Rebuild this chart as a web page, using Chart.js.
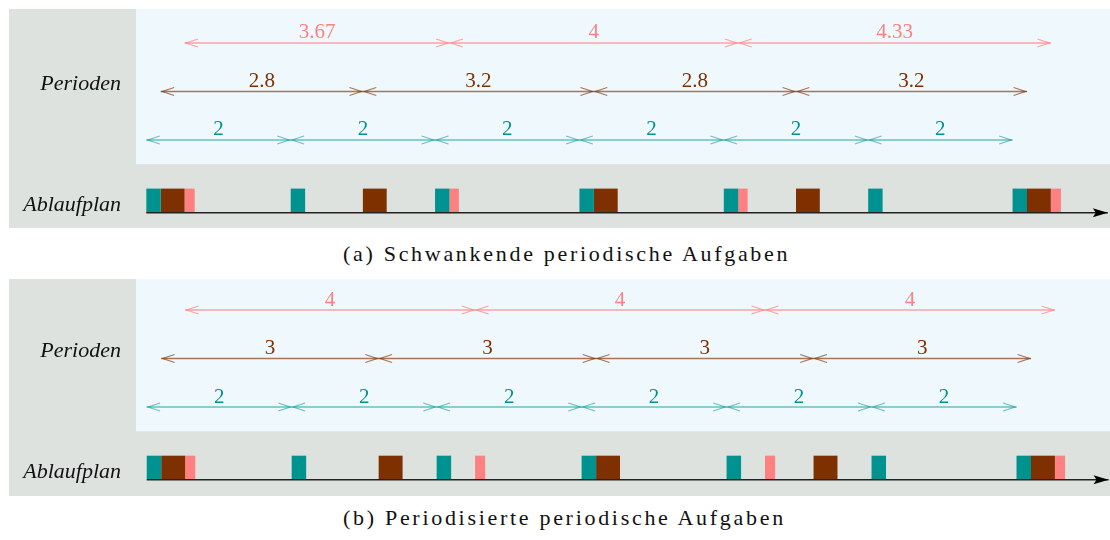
<!DOCTYPE html>
<html lang="de">
<head>
<meta charset="utf-8">
<title>Periodische Aufgaben</title>
<script src="https://cdn.jsdelivr.net/npm/chart.js@4.4.1/dist/chart.umd.min.js"></script>
<style>
  html, body { margin: 0; padding: 0; background: #fff; }
  body { width: 1110px; height: 540px; position: relative; overflow: hidden; }
  canvas { position: absolute; left: 9px; }
  #panel-a { top: 9px; }
  #panel-b { top: 279px; }
  .caption {
    position: absolute; left: 343px; white-space: nowrap;
    font-family: 'Liberation Serif', serif; font-size: 22px; line-height: 22px;
    letter-spacing: 2.7px; color: #111;
  }
  #caption-a { top: 243px; }
  #caption-b { top: 507px; }
</style>
</head>
<body>
<canvas id="panel-a" width="1101" height="219"></canvas>
<div class="caption" id="caption-a">(a) Schwankende periodische Aufgaben</div>
<canvas id="panel-b" width="1101" height="217"></canvas>
<div class="caption" id="caption-b">(b) Periodisierte periodische Aufgaben</div>

<script>
// =============================================================================
// DATA (time units)
// =============================================================================

const ROW_LABELS = ['Perioden', 'Ablaufplan'];

// (a) Schwankende periodische Aufgaben
const tealPeriodsA = [[0, 2], [2, 4], [4, 6], [6, 8], [8, 10], [10, 12]];
const tealLabelsA = ['2', '2', '2', '2', '2', '2'];
const brownPeriodsA = [[0.2, 3.0], [3.0, 6.2], [6.2, 9.0], [9.0, 12.2]];
const brownLabelsA = ['2.8', '3.2', '2.8', '3.2'];
const pinkPeriodsA = [[0.53, 4.2], [4.2, 8.2], [8.2, 12.53]];
const pinkLabelsA = ['3.67', '4', '4.33'];

const tealJobsA = [[0, 0.2], [2, 2.2], [4, 4.2], [6, 6.2], [8, 8.2], [10, 10.2], [12, 12.2]];
const brownJobsA = [[0.2, 0.53], [3.0, 3.33], [6.2, 6.53], [9.0, 9.33], [12.2, 12.53]];
const pinkJobsA = [[0.53, 0.67], [4.2, 4.33], [8.2, 8.33], [12.53, 12.67]];

// (b) Periodisierte periodische Aufgaben
const tealPeriodsB = [[0, 2], [2, 4], [4, 6], [6, 8], [8, 10], [10, 12]];
const tealLabelsB = ['2', '2', '2', '2', '2', '2'];
const brownPeriodsB = [[0.2, 3.2], [3.2, 6.2], [6.2, 9.2], [9.2, 12.2]];
const brownLabelsB = ['3', '3', '3', '3'];
const pinkPeriodsB = [[0.53, 4.53], [4.53, 8.53], [8.53, 12.53]];
const pinkLabelsB = ['4', '4', '4'];

const tealJobsB = [[0, 0.2], [2, 2.2], [4, 4.2], [6, 6.2], [8, 8.2], [10, 10.2], [12, 12.2]];
const brownJobsB = [[0.2, 0.53], [3.2, 3.53], [6.2, 6.53], [9.2, 9.53], [12.2, 12.53]];
const pinkJobsB = [[0.53, 0.67], [4.53, 4.67], [8.53, 8.67], [12.53, 12.67]];

// =============================================================================
// STYLE
// =============================================================================

const COLORS = {
  teal: '#00928f',
  brown: '#7f3000',
  pink: '#ff8080',
  tealLine: 'rgba(0, 146, 143, 0.55)',
  brownLine: 'rgba(127, 48, 0, 0.65)',
  pinkLine: 'rgba(255, 128, 128, 0.7)',
  gray: '#dee2df',
  blue: '#eff9fd',
  axis: '#222222'
};

// lanes on the y scale
const ROW = { pink: 3, brown: 2, teal: 1, jobs: -0.25, axis: -0.5 };
const ROW_TICKS = [2.15, -0.35];

// =============================================================================
// PLUGINS
// =============================================================================

/**
 * Gray panel with the light blue "Perioden" area on top
 */
const panelBackground = {
  id: 'panelBackground',
  beforeDraw(chart) {
    const { ctx, chartArea, scales } = chart;
    const splitY = scales.y.getPixelForValue(0.5);
    ctx.save();
    ctx.fillStyle = COLORS.gray;
    ctx.fillRect(0, 0, chart.width, chart.height);
    ctx.fillStyle = COLORS.blue;
    ctx.fillRect(chartArea.left, 0, chartArea.right - chartArea.left, splitY);
    ctx.restore();
  }
};

/**
 * Open arrow heads + length label for every period bar,
 * filled arrow head at the end of the time axis
 */
const periodArrows = {
  id: 'periodArrows',
  afterDatasetsDraw(chart) {
    const ctx = chart.ctx;
    chart.data.datasets.forEach((ds, i) => {
      const meta = chart.getDatasetMeta(i);
      if (ds.periodLabels) {
        ctx.save();
        ctx.strokeStyle = ds.backgroundColor;
        ctx.lineWidth = 1.2;
        ctx.fillStyle = ds.labelColor;
        ctx.font = '21px "Liberation Serif"';
        ctx.textAlign = 'center';
        ctx.textBaseline = 'alphabetic';
        meta.data.forEach((bar, j) => {
          const { x, base, y } = bar.getProps(['x', 'base', 'y'], true);
          const left = Math.min(x, base) + 1.4;
          const right = Math.max(x, base) - 1.4;
          ctx.beginPath();
          ctx.moveTo(left + 12, y - 4);
          ctx.lineTo(left, y);
          ctx.lineTo(left + 12, y + 4);
          ctx.moveTo(right - 12, y - 4);
          ctx.lineTo(right, y);
          ctx.lineTo(right - 12, y + 4);
          ctx.stroke();
          ctx.fillText(ds.periodLabels[j], (left + right) / 2, y - 4.5);
        });
        ctx.restore();
      }
      if (ds.axisArrow) {
        const { x, y } = meta.data[0].getProps(['x', 'y'], true);
        ctx.save();
        ctx.fillStyle = '#000';
        ctx.beginPath();
        ctx.moveTo(x, y);
        ctx.lineTo(x - 15, y - 4.5);
        ctx.lineTo(x - 12, y);
        ctx.lineTo(x - 15, y + 4.5);
        ctx.closePath();
        ctx.fill();
        ctx.restore();
      }
    });
  }
};

// =============================================================================
// CHART BUILDING
// =============================================================================

function toBars(ranges, row) {
  return ranges.map(r => ({ x: r, y: row }));
}

function periodDataset(periods, labels, row, lineColor, textColor) {
  return {
    data: toBars(periods, row),
    backgroundColor: lineColor,
    barThickness: 1.5,
    periodLabels: labels,
    labelColor: textColor
  };
}

function jobDataset(jobs, color) {
  return { data: toBars(jobs, ROW.jobs), backgroundColor: color, barThickness: 24 };
}

/**
 * Build one panel (Perioden + Ablaufplan)
 */
function buildPanel(canvasId, p) {
  const datasets = [
    { data: toBars([[0, p.axisEnd]], ROW.axis), backgroundColor: COLORS.axis, barThickness: 1.4, axisArrow: true },
    jobDataset(p.tealJobs, COLORS.teal),
    jobDataset(p.brownJobs, COLORS.brown),
    jobDataset(p.pinkJobs, COLORS.pink),
    periodDataset(p.tealPeriods, p.tealLabels, ROW.teal, COLORS.tealLine, COLORS.teal),
    periodDataset(p.brownPeriods, p.brownLabels, ROW.brown, COLORS.brownLine, COLORS.brown),
    periodDataset(p.pinkPeriods, p.pinkLabels, ROW.pink, COLORS.pinkLine, COLORS.pink)
  ].map(ds => ({ ...ds, stack: 'all', borderWidth: 0, inflateAmount: 0 }));

  return new Chart(document.getElementById(canvasId), {
    type: 'bar',
    data: { datasets },
    options: {
      indexAxis: 'y',
      responsive: false,
      animation: false,
      events: [],
      layout: { padding: 0 },
      plugins: {
        legend: { display: false },
        tooltip: { enabled: false }
      },
      scales: {
        x: { type: 'linear', min: p.xMin, max: p.xMax, display: false, stacked: false },
        y: {
          type: 'linear',
          min: p.yMin,
          max: p.yMax,
          offset: false,
          grid: { display: false, drawTicks: false },
          border: { display: false },
          afterBuildTicks: (scale) => { scale.ticks = ROW_TICKS.map(v => ({ value: v })); },
          afterFit: (scale) => {
            scale.width = 127;
            scale.paddingTop = 0;
            scale.paddingBottom = 0;
          },
          ticks: {
            autoSkip: false,
            padding: 15,
            color: '#111',
            font: { family: 'Liberation Serif', size: 22, style: 'italic' },
            callback: (value, index) => ROW_LABELS[index]
          }
        }
      }
    },
    plugins: [panelBackground, periodArrows]
  });
}

buildPanel('panel-a', {
  xMin: -0.143, xMax: 13.35, yMin: -0.815, yMax: 3.70, axisEnd: 13.32,
  tealPeriods: tealPeriodsA, tealLabels: tealLabelsA,
  brownPeriods: brownPeriodsA, brownLabels: brownLabelsA,
  pinkPeriods: pinkPeriodsA, pinkLabels: pinkLabelsA,
  tealJobs: tealJobsA, brownJobs: brownJobsA, pinkJobs: pinkJobsA
});

buildPanel('panel-b', {
  xMin: -0.148, xMax: 13.29, yMin: -0.834, yMax: 3.64, axisEnd: 13.27,
  tealPeriods: tealPeriodsB, tealLabels: tealLabelsB,
  brownPeriods: brownPeriodsB, brownLabels: brownLabelsB,
  pinkPeriods: pinkPeriodsB, pinkLabels: pinkLabelsB,
  tealJobs: tealJobsB, brownJobs: brownJobsB, pinkJobs: pinkJobsB
});
</script>
</body>
</html>
